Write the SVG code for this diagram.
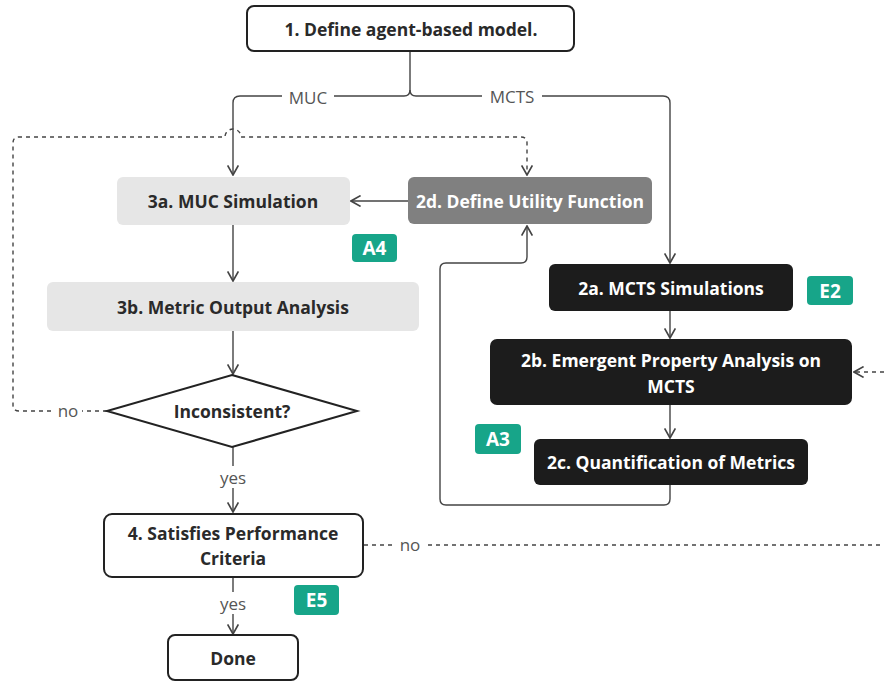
<svg xmlns="http://www.w3.org/2000/svg" width="884" height="682" viewBox="0 0 884 682">
<style>
.node{stroke:#222;stroke-width:2;fill:#fff}
.lite{fill:#e6e6e6}
.mid{fill:#808080}
.dark{fill:#1c1c1c}
.t{font-family:"Open Sans","Liberation Sans",sans-serif;font-weight:700;font-size:17.5px;text-anchor:middle;dominant-baseline:central;fill:#2a2a2a}
.tw{fill:#fff}
.lbl{font-family:"Open Sans","Liberation Sans",sans-serif;font-size:17px;text-anchor:middle;dominant-baseline:central;fill:#555}
.badge{fill:#17a589}
.bt{font-family:"Open Sans","Liberation Sans",sans-serif;font-weight:700;font-size:19px;text-anchor:middle;dominant-baseline:central;fill:#fff}
.c{fill:none;stroke:#444;stroke-width:1.4}
.d{stroke-dasharray:4 4}
.bg{fill:#fff}
</style>
<defs>
<marker id="ah" viewBox="0 0 10 10" refX="9" refY="5" markerWidth="12" markerHeight="12" markerUnits="userSpaceOnUse" orient="auto">
<path d="M1,0.5 L9,5 L1,9.5" fill="none" stroke="#444" stroke-width="1.4"/>
</marker>
</defs>
<g id="connectors">
<path class="c" d="M410,52 V90 Q410,96 404,96 H240 Q233,96 233,103 V175" marker-end="url(#ah)"/>
<path class="c" d="M410,90 Q410,96 416,96 H663 Q670,96 670,103 V263" marker-end="url(#ah)"/>
<path class="c d" d="M107,411 H19 Q13,411 13,405 V143 Q13,137 19,137 H225 A8,8 0 0 1 241,137 H521 Q527,137 527,143 V175" marker-end="url(#ah)"/>
<path class="c" d="M408,201 H351" marker-end="url(#ah)"/>
<path class="c" d="M233,225 V281" marker-end="url(#ah)"/>
<path class="c" d="M233,331 V374" marker-end="url(#ah)"/>
<path class="c" d="M233,447 V512" marker-end="url(#ah)"/>
<path class="c" d="M233,577 V634" marker-end="url(#ah)"/>
<path class="c" d="M670,311 V338" marker-end="url(#ah)"/>
<path class="c" d="M670,405 V438" marker-end="url(#ah)"/>
<path class="c" d="M670,485 V499 Q670,505 664,505 H446 Q440,505 440,499 V269 Q440,263 446,263 H521 Q527,263 527,257 V226" marker-end="url(#ah)"/>
<path class="c d" d="M364,545 H884"/>
<path class="c d" d="M884,372 H854" marker-end="url(#ah)"/>
<rect class="bg" x="282" y="86" width="52" height="22"/>
<text class="lbl" x="308" y="97">MUC</text>
<rect class="bg" x="482" y="85" width="60" height="22"/>
<text class="lbl" x="512" y="96">MCTS</text>
<rect class="bg" x="54" y="400" width="28" height="22"/>
<text class="lbl" x="68" y="410">no</text>
<rect class="bg" x="217" y="466" width="32" height="22"/>
<text class="lbl" x="233" y="477">yes</text>
<rect class="bg" x="217" y="592" width="32" height="22"/>
<text class="lbl" x="233" y="603">yes</text>
<rect class="bg" x="396" y="534" width="28" height="22"/>
<text class="lbl" x="410" y="544">no</text>
</g>
<g id="n1"><rect class="node" x="247" y="6" width="327" height="45" rx="7"/><text class="t" x="411" y="29">1. Define agent-based model.</text></g>
<g id="n3a"><rect class="lite" x="117" y="177" width="233" height="48" rx="6"/><text class="t" x="233" y="201">3a. MUC Simulation</text></g>
<g id="n2d"><rect class="mid" x="408" y="177" width="244" height="47" rx="6"/><text class="t tw" x="530" y="201">2d. Define Utility Function</text></g>
<g id="n3b"><rect class="lite" x="47" y="282" width="372" height="49" rx="6"/><text class="t" x="233" y="307">3b. Metric Output Analysis</text></g>
<g id="dia"><polygon class="node" points="232,375 357,411 232,447 107,411"/><text class="t" x="232" y="411">Inconsistent?</text></g>
<g id="n2a"><rect class="dark" x="549" y="264" width="244" height="47" rx="6"/><text class="t tw" x="671" y="288">2a. MCTS Simulations</text></g>
<g id="n2b"><rect class="dark" x="490" y="339" width="362" height="66" rx="7"/><text class="t tw" x="671" y="360">2b. Emergent Property Analysis on</text><text class="t tw" x="671" y="386">MCTS</text></g>
<g id="n2c"><rect class="dark" x="534" y="439" width="274" height="46" rx="6"/><text class="t tw" x="671" y="462">2c. Quantification of Metrics</text></g>
<g id="n4"><rect class="node" x="104" y="514" width="259" height="63" rx="8"/><text class="t" x="233" y="533">4. Satisfies Performance</text><text class="t" x="233" y="558">Criteria</text></g>
<g id="done"><rect class="node" x="168" y="635" width="130" height="45" rx="7"/><text class="t" x="233" y="658">Done</text></g>
<g id="badges">
<rect class="badge" x="352" y="234" width="45" height="28" rx="4"/><text class="bt" x="374.5" y="248">A4</text>
<rect class="badge" x="807" y="276" width="46" height="29" rx="4"/><text class="bt" x="830" y="290.5">E2</text>
<rect class="badge" x="475" y="424" width="46" height="30" rx="4"/><text class="bt" x="498" y="439">A3</text>
<rect class="badge" x="294" y="585" width="45" height="30" rx="4"/><text class="bt" x="316.5" y="600">E5</text>
</g>
</svg>
